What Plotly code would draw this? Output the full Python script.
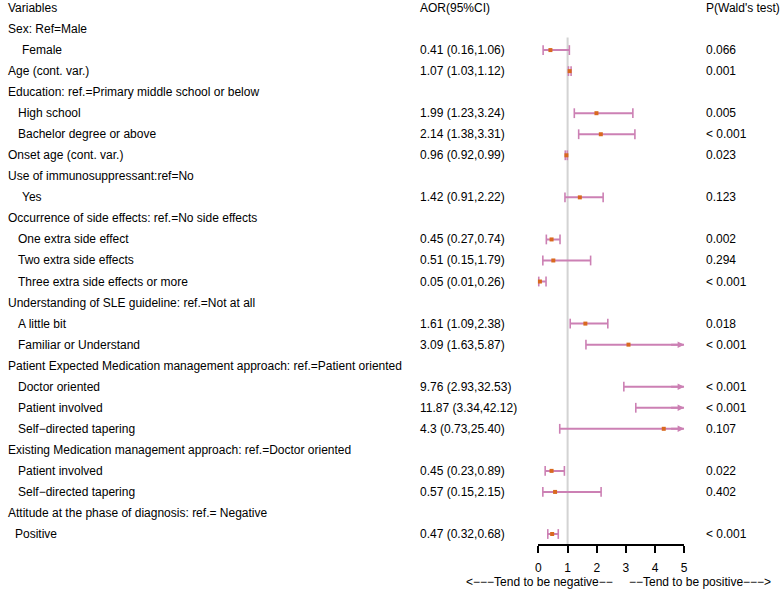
import plotly.graph_objects as go

# ---------------- data ----------------
labels = [
    "Variables",
    "Sex: Ref=Male",
    "Female",
    "Age (cont. var.)",
    "Education: ref.=Primary middle school or below",
    "High school",
    "Bachelor degree or above",
    "Onset age (cont. var.)",
    "Use of immunosuppressant:ref=No",
    "Yes",
    "Occurrence of side effects: ref.=No side effects",
    "One extra side effect",
    "Two extra side effects",
    "Three extra side effects or more",
    "Understanding of SLE guideline: ref.=Not at all",
    "A little bit",
    "Familiar or Understand",
    "Patient Expected Medication management approach: ref.=Patient oriented",
    "Doctor oriented",
    "Patient involved",
    "Self\u2212directed tapering",
    "Existing Medication management approach: ref.=Doctor oriented",
    "Patient involved",
    "Self\u2212directed tapering",
    "Attitude at the phase of diagnosis: ref.= Negative",
    "Positive",
]
indent_px = [0, 0, 14, 0, 0, 10, 10, 0, 0, 14, 0, 10, 10, 10, 0, 10, 10, 0, 10, 10, 10, 0, 10, 10, 0, 7]

aor_text = ["AOR(95%CI)", "", "0.41 (0.16,1.06)", "1.07 (1.03,1.12)", "", "1.99 (1.23,3.24)",
            "2.14 (1.38,3.31)", "0.96 (0.92,0.99)", "", "1.42 (0.91,2.22)", "",
            "0.45 (0.27,0.74)", "0.51 (0.15,1.79)", "0.05 (0.01,0.26)", "",
            "1.61 (1.09,2.38)", "3.09 (1.63,5.87)", "", "9.76 (2.93,32.53)",
            "11.87 (3.34,42.12)", "4.3 (0.73,25.40)", "", "0.45 (0.23,0.89)",
            "0.57 (0.15,2.15)", "", "0.47 (0.32,0.68)"]
p_text = ["P(Wald's test)", "", "0.066", "0.001", "", "0.005", "< 0.001", "0.023", "",
          "0.123", "", "0.002", "0.294", "< 0.001", "", "0.018", "< 0.001", "",
          "< 0.001", "< 0.001", "0.107", "", "0.022", "0.402", "", "< 0.001"]

aor = [None, None, 0.41, 1.07, None, 1.99, 2.14, 0.96, None, 1.42, None, 0.45, 0.51, 0.05,
       None, 1.61, 3.09, None, 9.76, 11.87, 4.3, None, 0.45, 0.57, None, 0.47]
lo = [None, None, 0.16, 1.03, None, 1.23, 1.38, 0.92, None, 0.91, None, 0.27, 0.15, 0.01,
      None, 1.09, 1.63, None, 2.93, 3.34, 0.73, None, 0.23, 0.15, None, 0.32]
hi = [None, None, 1.06, 1.12, None, 3.24, 3.31, 0.99, None, 2.22, None, 0.74, 1.79, 0.26,
      None, 2.38, 5.87, None, 32.53, 42.12, 25.40, None, 0.89, 2.15, None, 0.68]

x_ticks = [0, 1, 2, 3, 4, 5]
xmax = 5

# ---------------- style ----------------
W, H = 782, 591
PINK = "#CC80B4"
ORANGE = "#D9691F"
FONT = "Liberation Sans, Arial, sans-serif"
row0_px, row_step = 8, 21.04
axis_px = 544
x0_px, x5_px = 540.3, 687.3

n = len(labels)
rows = list(range(n))
y_top = -row0_px / row_step
y_bot = (axis_px - row0_px) / row_step

fig = go.Figure()

# CI lines
lx, ly = [], []
cap_x, cap_y = [], []
pt_x, pt_y = [], []
arrows = []
for i in rows:
    if aor[i] is None:
        continue
    end = min(hi[i], xmax)
    lx += [lo[i], end, None]
    ly += [i, i, None]
    cap_x.append(lo[i]); cap_y.append(i)
    if hi[i] <= xmax:
        cap_x.append(hi[i]); cap_y.append(i)
    else:
        arrows.append(i)
    if aor[i] <= xmax:
        pt_x.append(aor[i]); pt_y.append(i)

fig.add_trace(go.Scatter(x=lx, y=ly, mode="lines", line=dict(color=PINK, width=2),
                         hoverinfo="skip", showlegend=False))
fig.add_trace(go.Scatter(x=cap_x, y=cap_y, mode="markers",
                         marker=dict(symbol="line-ns", size=7, line=dict(color=PINK, width=1.6)),
                         hoverinfo="skip", showlegend=False, cliponaxis=False))
fig.add_trace(go.Scatter(x=pt_x, y=pt_y, mode="markers",
                         marker=dict(symbol="square", size=4, color=ORANGE, line=dict(width=0)),
                         showlegend=False, cliponaxis=False))

annotations = []
for i in arrows:
    annotations.append(dict(x=xmax, y=i, xref="x", yref="y", ax=xmax - 0.5, ay=i,
                            axref="x", ayref="y", text="", showarrow=True,
                            arrowhead=2, arrowsize=0.65, arrowwidth=2, arrowcolor=PINK))

# reference line at 1
fig.add_shape(type="line", x0=1, x1=1, y0=1.4, y1=y_bot, xref="x", yref="y",
              line=dict(color="#D3D3D3", width=2), layer="below")

# text columns
tf = dict(family=FONT, size=12, color="black")
for i in rows:
    annotations.append(dict(x=(3 + indent_px[i]) / W, y=i, xref="paper", yref="y",
                            text=labels[i], showarrow=False, xanchor="left",
                            yanchor="middle", font=tf))
    if aor_text[i]:
        annotations.append(dict(x=419 / W, y=i, xref="paper", yref="y", text=aor_text[i],
                                showarrow=False, xanchor="left", yanchor="middle", font=tf))
    if p_text[i]:
        annotations.append(dict(x=707 / W, y=i, xref="paper", yref="y", text=p_text[i],
                                showarrow=False, xanchor="left", yanchor="middle", font=tf))

annotations.append(dict(x=618 / W, y=1 - 582 / H, xref="paper", yref="paper",
                        text="<\u2212\u2212\u2212Tend to be negative\u2212\u2212",
                        showarrow=False, xanchor="right", yanchor="middle", font=tf))
annotations.append(dict(x=630 / W, y=1 - 582 / H, xref="paper", yref="paper",
                        text="\u2212\u2212Tend to be positive\u2212\u2212\u2212>",
                        showarrow=False, xanchor="left", yanchor="middle", font=tf))

fig.update_layout(
    width=W, height=H,
    margin=dict(l=0, r=0, t=0, b=0),
    paper_bgcolor="white", plot_bgcolor="white",
    annotations=annotations,
    xaxis=dict(domain=[x0_px / W, x5_px / W], range=[0, xmax], tickvals=x_ticks,
               ticktext=[str(t) for t in x_ticks], showgrid=False, zeroline=False,
               showline=True, linecolor="black", linewidth=2, ticks="outside",
               ticklen=7, tickwidth=2, tickcolor="black", ticklabelstandoff=5,
               tickfont=tf, fixedrange=True),
    yaxis=dict(domain=[1 - axis_px / H, 1], range=[y_bot, y_top], visible=False,
               showgrid=False, zeroline=False, fixedrange=True),
    showlegend=False,
)

fig.write_html("out.html")
